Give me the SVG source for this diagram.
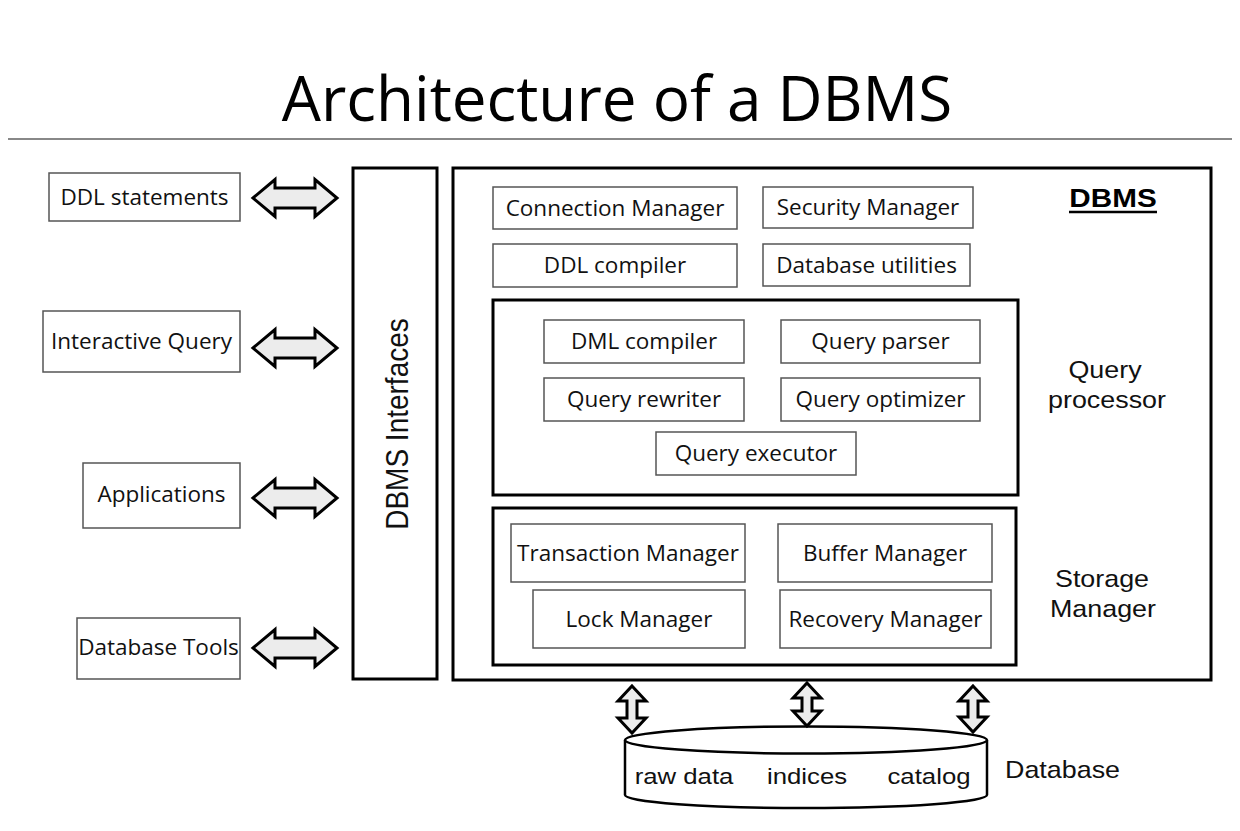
<svg xmlns="http://www.w3.org/2000/svg" width="1240" height="831" viewBox="0 0 1240 831">
<style>
.bx{fill:#fff;stroke:#555;stroke-width:1.5}
.big{fill:none;stroke:#000;stroke-width:3}
.t{font-family:"Open Sans","Liberation Sans",sans-serif;font-size:22.5px;fill:#111;text-anchor:middle}
.a{font-family:"Liberation Sans",Arial,sans-serif;font-size:24px;fill:#111;text-anchor:middle}
.arr{fill:#ececec;stroke:#000;stroke-width:3;stroke-linejoin:miter}
</style>
<rect width="1240" height="831" fill="#fff"/>
<text x="617" y="121" style="font-family:'Open Sans','Liberation Sans',sans-serif;font-size:62px;fill:#000;text-anchor:middle">Architecture of a DBMS</text>
<line x1="8" y1="139" x2="1232" y2="139" stroke="#888" stroke-width="2"/>

<g id="ddl-statements"><rect class="bx" x="49" y="173" width="191" height="48"/><text class="t" x="144.5" y="205">DDL statements</text></g>
<g id="interactive-query"><rect class="bx" x="43" y="311" width="197" height="61"/><text class="t" x="141.5" y="349">Interactive Query</text></g>
<g id="applications"><rect class="bx" x="83" y="463" width="157" height="65"/><text class="t" x="161.5" y="502">Applications</text></g>
<g id="database-tools"><rect class="bx" x="77" y="618" width="163" height="61"/><text class="t" x="158.5" y="655">Database Tools</text></g>

<g id="dbms-interfaces"><rect class="big" x="353" y="168" width="84" height="511"/><text class="a" style="font-size:28px" transform="translate(408,424) scale(1.12,1) rotate(-90)">DBMS Interfaces</text></g>

<g id="dbms"><rect class="big" x="453" y="168" width="758" height="512"/>
<text transform="translate(1113,207) scale(1.12,1)" style="font-family:'Liberation Sans',Arial,sans-serif;font-size:26.5px;font-weight:bold;fill:#000;text-anchor:middle">DBMS</text>
<line x1="1069" y1="212" x2="1157" y2="212" stroke="#000" stroke-width="2.5"/></g>

<g id="connection-manager"><rect class="bx" x="493" y="187" width="244" height="42"/><text class="t" x="615" y="216">Connection Manager</text></g>
<g id="security-manager"><rect class="bx" x="763" y="187" width="210" height="41"/><text class="t" x="868" y="215">Security Manager</text></g>
<g id="ddl-compiler"><rect class="bx" x="493" y="244" width="244" height="43"/><text class="t" x="615" y="273">DDL compiler</text></g>
<g id="database-utilities"><rect class="bx" x="763" y="244" width="207" height="42"/><text class="t" x="866.5" y="273">Database utilities</text></g>

<g id="query-processor"><rect class="big" x="493" y="300" width="525" height="195"/>
<text class="a" transform="translate(1105,378) scale(1.12,1)">Query</text>
<text class="a" transform="translate(1107,408) scale(1.12,1)">processor</text></g>
<g id="dml-compiler"><rect class="bx" x="544" y="320" width="200" height="43"/><text class="t" x="644" y="349">DML compiler</text></g>
<g id="query-parser"><rect class="bx" x="781" y="320" width="199" height="43"/><text class="t" x="880.5" y="349">Query parser</text></g>
<g id="query-rewriter"><rect class="bx" x="544" y="378" width="200" height="43"/><text class="t" x="644" y="407">Query rewriter</text></g>
<g id="query-optimizer"><rect class="bx" x="781" y="378" width="199" height="43"/><text class="t" x="880.5" y="407">Query optimizer</text></g>
<g id="query-executor"><rect class="bx" x="656" y="432" width="200" height="43"/><text class="t" x="756" y="461">Query executor</text></g>

<g id="storage-manager"><rect class="big" x="493" y="508" width="523" height="157"/>
<text class="a" transform="translate(1102,587) scale(1.12,1)">Storage</text>
<text class="a" transform="translate(1103,617) scale(1.12,1)">Manager</text></g>
<g id="transaction-manager"><rect class="bx" x="511" y="524" width="234" height="58"/><text class="t" x="628" y="561">Transaction Manager</text></g>
<g id="buffer-manager"><rect class="bx" x="778" y="524" width="214" height="58"/><text class="t" x="885" y="561">Buffer Manager</text></g>
<g id="lock-manager"><rect class="bx" x="533" y="590" width="212" height="58"/><text class="t" x="639" y="627">Lock Manager</text></g>
<g id="recovery-manager"><rect class="bx" x="780" y="590" width="211" height="58"/><text class="t" x="885.5" y="627">Recovery Manager</text></g>

<g id="database">
<path d="M625,740 L625,795 A181,13 0 0 0 987,795 L987,740" fill="#fff" stroke="#000" stroke-width="2.5"/>
<ellipse cx="806" cy="740" rx="181" ry="13.5" fill="#fff" stroke="#000" stroke-width="2.5"/>
<text class="a" style="font-size:23px" transform="translate(684,784) scale(1.12,1)">raw data</text>
<text class="a" style="font-size:23px" transform="translate(807,784) scale(1.12,1)">indices</text>
<text class="a" style="font-size:23px" transform="translate(929,784) scale(1.12,1)">catalog</text>
<text class="a" style="text-anchor:start" transform="translate(1005,778) scale(1.12,1)">Database</text>
</g>

<g id="connectors">
<path class="arr" d="M253,198 L275,179.5 L275,188 L315,188 L315,179.5 L337,198 L315,216.5 L315,208 L275,208 L275,216.5 Z"/>
<path class="arr" d="M253,348 L275,329.5 L275,338 L315,338 L315,329.5 L337,348 L315,366.5 L315,358 L275,358 L275,366.5 Z"/>
<path class="arr" d="M253,498 L275,479.5 L275,488 L315,488 L315,479.5 L337,498 L315,516.5 L315,508 L275,508 L275,516.5 Z"/>
<path class="arr" d="M253,648 L275,629.5 L275,638 L315,638 L315,629.5 L337,648 L315,666.5 L315,658 L275,658 L275,666.5 Z"/>
<path class="arr" d="M632,686 L646,701 L637,701 L637,718 L646,718 L632,733 L618,718 L627,718 L627,701 L618,701 Z"/>
<path class="arr" d="M807,683 L821,698 L812,698 L812,711 L821,711 L807,726 L793,711 L802,711 L802,698 L793,698 Z"/>
<path class="arr" d="M973,686 L987,701 L978,701 L978,717 L987,717 L973,732 L959,717 L968,717 L968,701 L959,701 Z"/>
</g>
</svg>
